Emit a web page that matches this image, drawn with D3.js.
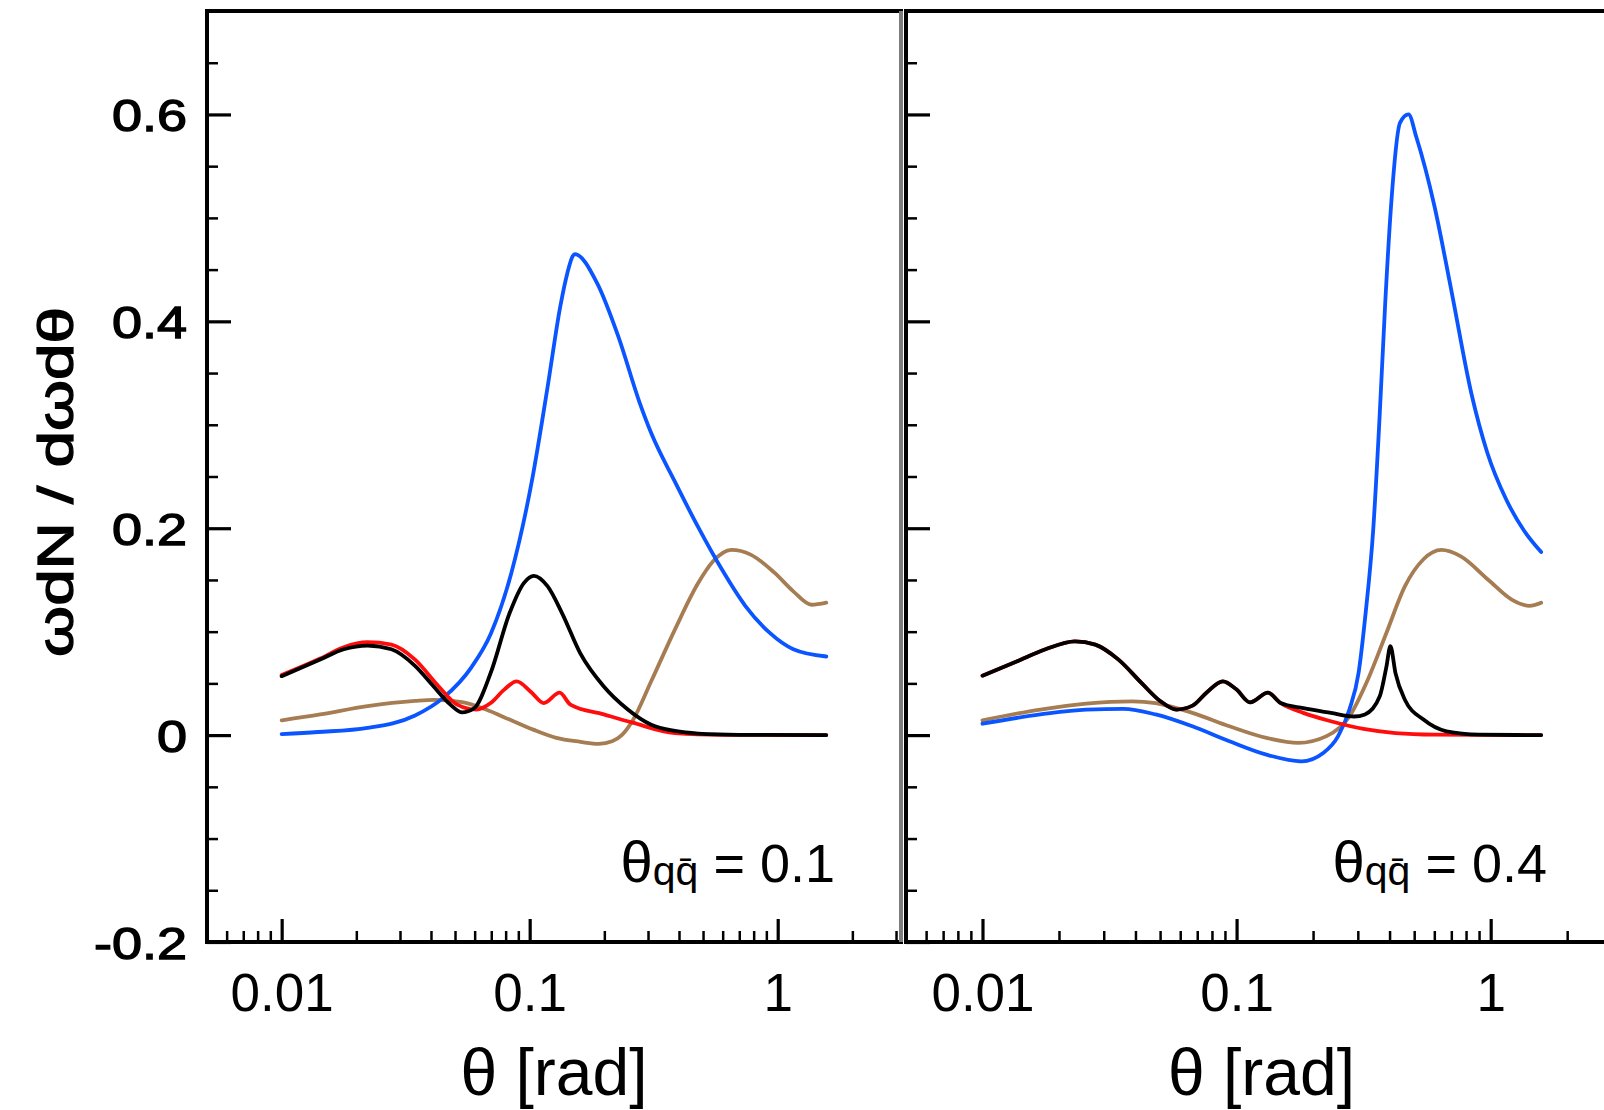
<!DOCTYPE html>
<html><head><meta charset="utf-8">
<script src="https://cdn.jsdelivr.net/npm/d3@7"></script>
<style>
html,body{margin:0;padding:0;background:#fff;overflow:hidden}
text{font-family:"Liberation Sans",Arial,Helvetica,sans-serif;fill:#000}
</style>
</head><body>
<svg id="chart" width="1604" height="1110"></svg>
<script>
// ---------------- data ----------------
const xDomain = [0.005, Math.PI];
const yDomain = [-0.2, 0.7];
const xMajor = [0.01, 0.1, 1];
const xMajorLabels = ["0.01", "0.1", "1"];
const yMajor = [-0.2, 0, 0.2, 0.4, 0.6];
const yMajorLabels = ["-0.2", "0", "0.2", "0.4", "0.6"];
const panelLabels = ["0.1", "0.4"];
const yTitle = "ωdN / dωdθ";
const xTitle = "θ [rad]";

// panel 1 : theta_qqbar = 0.1
const leftBlue = [[0.01,0.001],[0.014,0.003],[0.0222,0.007],[0.0345,0.019],[0.0448,0.036],[0.0584,0.066],[0.0697,0.098],[0.0844,0.157],[0.1023,0.247],[0.118,0.336],[0.133,0.415],[0.142,0.447],[0.149,0.463],[0.152,0.465],[0.187,0.437],[0.228,0.385],[0.277,0.322],[0.309,0.292],[0.385,0.245],[0.478,0.201],[0.596,0.160],[0.74,0.125],[0.927,0.099],[1.156,0.083],[1.57,0.076]];
const leftBlack = [[0.01,0.057],[0.0143,0.073],[0.0178,0.083],[0.0222,0.0866],[0.0277,0.083],[0.0345,0.067],[0.041,0.047],[0.0479,0.0295],[0.0534,0.022],[0.0597,0.026],[0.0696,0.060],[0.083,0.118],[0.0947,0.147],[0.104,0.154],[0.118,0.144],[0.135,0.118],[0.16,0.079],[0.199,0.047],[0.248,0.025],[0.309,0.010],[0.385,0.004],[0.478,0.0015],[0.7,0.0003],[1.57,0]];
const leftRed = [[0.01,0.058],[0.0143,0.074],[0.0178,0.085],[0.0222,0.0898],[0.0277,0.0875],[0.0345,0.073],[0.043,0.047],[0.051,0.0295],[0.061,0.0247],[0.0696,0.031],[0.079,0.044],[0.0886,0.052],[0.101,0.042],[0.114,0.031],[0.132,0.041],[0.146,0.0295],[0.199,0.020],[0.26,0.012],[0.385,0.002],[0.6,0.0003],[1.57,0]];
const leftBrown = [[0.01,0.0143],[0.0143,0.020],[0.0222,0.028],[0.0345,0.033],[0.041,0.034],[0.0534,0.032],[0.0667,0.0247],[0.083,0.015],[0.1033,0.0053],[0.128,-0.0027],[0.16,-0.0065],[0.19,-0.0085],[0.215,-0.006],[0.235,0.0],[0.26,0.014],[0.309,0.052],[0.385,0.102],[0.478,0.147],[0.549,0.168],[0.65,0.179],[0.778,0.1745],[0.97,0.157],[1.156,0.139],[1.37,0.126],[1.57,0.128]];

// panel 2 : theta_qqbar = 0.4
const rightBlue = [[0.01,0.011],[0.0169,0.020],[0.0256,0.0247],[0.0358,0.0253],[0.048,0.020],[0.067,0.0085],[0.0937,-0.006],[0.131,-0.0189],[0.18,-0.0253],[0.22,-0.017],[0.251,-0.001],[0.278,0.0247],[0.302,0.060],[0.322,0.118],[0.345,0.199],[0.365,0.305],[0.385,0.42],[0.405,0.51],[0.44,0.592],[0.475,0.600],[0.51,0.578],[0.60,0.512],[0.70,0.430],[0.84,0.330],[0.97,0.273],[1.15,0.228],[1.35,0.198],[1.58,0.177]];
const rightBlack = [[0.01,0.0575],[0.0137,0.0714],[0.0176,0.0827],[0.0231,0.0907],[0.0278,0.0875],[0.0343,0.073],[0.0424,0.050],[0.05,0.033],[0.058,0.0247],[0.0671,0.0285],[0.0761,0.041],[0.0883,0.052],[0.1,0.044],[0.113,0.0317],[0.133,0.041],[0.149,0.031],[0.183,0.026],[0.235,0.0215],[0.29,0.018],[0.32,0.020],[0.366,0.0375],[0.389,0.0665],[0.403,0.086],[0.422,0.060],[0.46,0.034],[0.544,0.015],[0.67,0.0037],[0.9,0.0005],[1.58,0]];
const rightRed = [[0.01,0.0575],[0.0137,0.0714],[0.0176,0.0827],[0.0231,0.0907],[0.0278,0.0875],[0.0343,0.073],[0.0424,0.050],[0.05,0.033],[0.058,0.0247],[0.0671,0.0285],[0.0761,0.041],[0.0883,0.052],[0.1,0.044],[0.113,0.0317],[0.133,0.041],[0.149,0.031],[0.183,0.0215],[0.235,0.0134],[0.316,0.006],[0.422,0.002],[0.6,0.0005],[1.58,0]];
const rightBrown = [[0.01,0.0143],[0.0169,0.0247],[0.0256,0.0305],[0.0389,0.0327],[0.048,0.031],[0.067,0.0215],[0.0937,0.0085],[0.131,-0.0027],[0.175,-0.0075],[0.226,-0.001],[0.278,0.018],[0.329,0.054],[0.389,0.099],[0.46,0.144],[0.544,0.170],[0.64,0.179],[0.76,0.173],[0.98,0.150],[1.21,0.131],[1.42,0.125],[1.58,0.128]];

const seriesColors = {brown:"#a67c52", blue:"#0a55ff", red:"#ff0d0d", black:"#000000"};

// ---------------- layout ----------------
const yTop = 11, yBot = 942;
const panels = [
  {x0:207, x1:901, label:panelLabels[0], showYLabels:true, rightStroke:"#7d7d7d",
   series:[["brown",leftBrown],["blue",leftBlue],["red",leftRed],["black",leftBlack]]},
  {x0:906, x1:1617, label:panelLabels[1], showYLabels:false, rightStroke:"#000",
   series:[["brown",rightBrown],["blue",rightBlue],["red",rightRed],["black",rightBlack]]}
];

const svg = d3.select("#chart");
const y = d3.scaleLinear().domain(yDomain).range([yBot, yTop]);

// minor tick positions
const xMinor = [];
[0.001, 0.01, 0.1, 1].forEach(dec => { for (let k = 2; k <= 9; k++) { const v = dec*k; if (v > xDomain[0]*0.999 && v < xDomain[1] && !xMajor.some(m => Math.abs(m-v) < 1e-9)) xMinor.push(v); } });
const yMinor = d3.range(-0.15, 0.7, 0.05).map(v => +v.toFixed(2)).filter(v => !yMajor.some(m => Math.abs(m-v) < 1e-9));

const labelScale = 1.2;

panels.forEach((p, pi) => {
  const x = d3.scaleLog().domain(xDomain).range([p.x0, p.x1]);
  const g = svg.append("g");

  // curves
  const line = d3.line().x(d => x(d[0])).y(d => y(d[1])).curve(d3.curveMonotoneX);
  p.series.forEach(([name, data]) => {
    g.append("path").datum(data)
      .attr("d", line)
      .attr("fill","none")
      .attr("stroke", seriesColors[name])
      .attr("stroke-width", 3.8)
      .attr("stroke-linejoin","round")
      .attr("stroke-linecap","round");
  });

  // y axis (left side of each panel)
  const yAx = g.append("g").attr("transform", `translate(${p.x0},0)`)
    .call(d3.axisLeft(y).tickValues(yMajor).tickSize(-24).tickPadding(0)
      .tickFormat((d,i) => p.showYLabels ? yMajorLabels[i] : ""));
  yAx.select(".domain").remove();
  yAx.selectAll(".tick line").attr("stroke","#000").attr("stroke-width",3.2);
  yAx.selectAll(".tick text")
    .attr("x", -20/labelScale).attr("dy","0.36em")
    .attr("transform",`scale(${labelScale},1)`)
    .attr("stroke","#000").attr("stroke-width",1.3)
    .style("font-size","45px")
    .style("font-family",'"Liberation Sans",Arial,sans-serif');
  const yAxm = g.append("g").attr("transform", `translate(${p.x0},0)`)
    .call(d3.axisLeft(y).tickValues(yMinor).tickSize(-11).tickFormat(""));
  yAxm.select(".domain").remove();
  yAxm.selectAll(".tick line").attr("stroke","#000").attr("stroke-width",2.5);

  // x axis
  const xAx = g.append("g").attr("transform", `translate(0,${yBot})`)
    .call(d3.axisBottom(x).tickValues(xMajor).tickSize(-23).tickPadding(31)
      .tickFormat((d,i) => xMajorLabels[i]));
  xAx.select(".domain").remove();
  xAx.selectAll(".tick line").attr("stroke","#000").attr("stroke-width",3.2);
  xAx.selectAll(".tick text").style("font-size","53px").style("font-family",'"Liberation Sans",Arial,sans-serif');
  const xAxm = g.append("g").attr("transform", `translate(0,${yBot})`)
    .call(d3.axisBottom(x).tickValues(xMinor).tickSize(-11).tickFormat(""));
  xAxm.select(".domain").remove();
  xAxm.selectAll(".tick line").attr("stroke","#000").attr("stroke-width",2.5);

  // frame
  g.append("line").attr("x1",p.x0).attr("x2",p.x0).attr("y1",yTop).attr("y2",yBot).attr("stroke","#000").attr("stroke-width",4);
  g.append("line").attr("x1",p.x0-2).attr("x2",p.x1+2).attr("y1",yTop).attr("y2",yTop).attr("stroke","#000").attr("stroke-width",4);
  g.append("line").attr("x1",p.x0-2).attr("x2",p.x1+2).attr("y1",yBot).attr("y2",yBot).attr("stroke","#000").attr("stroke-width",4);
  g.append("line").attr("x1",p.x1).attr("x2",p.x1).attr("y1",yTop).attr("y2",yBot).attr("stroke",p.rightStroke).attr("stroke-width",4);

  // x title
  g.append("text")
    .attr("x", (p.x0 + p.x1) / 2).attr("y", 1095)
    .attr("text-anchor","middle").style("font-size","66px")
    .text(xTitle);

  // panel annotation
  const ann = g.append("text")
    .attr("x", p.x1 - (pi === 0 ? 66 : 70)).attr("y", 882)
    .attr("text-anchor","end").style("font-size","54px");
  ann.append("tspan").style("font-size","58px").text("θ");
  ann.append("tspan").style("font-size","41px").attr("dy", 3).text("qq\u0304");
  ann.append("tspan").attr("dy", -3).text(" = " + p.label);
});

// y title
svg.append("text")
  .attr("transform","translate(73,482) rotate(-90)")
  .attr("text-anchor","middle")
  .attr("textLength", 350).attr("lengthAdjust","spacingAndGlyphs")
  .attr("stroke","#000").attr("stroke-width",1.3)
  .style("font-size","50px")
  .text(yTitle);
</script>
</body></html>
